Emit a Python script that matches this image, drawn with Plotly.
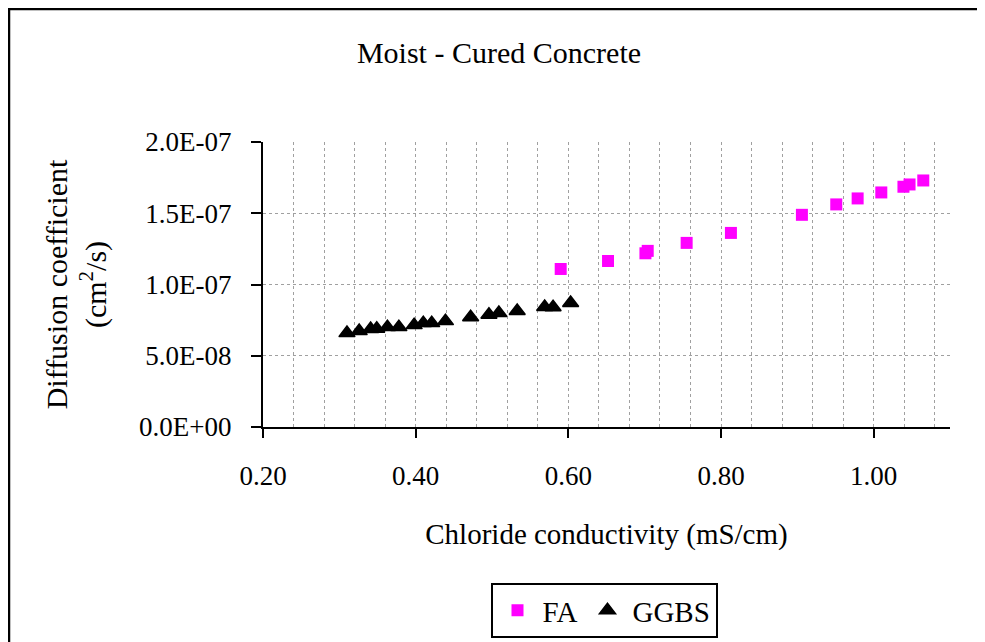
import plotly.graph_objs as go

# Values
fa_x = [0.590, 0.652, 0.701, 0.704, 0.755, 0.813, 0.906, 0.951, 0.979, 1.010, 1.039, 1.047, 1.065]
fa_y = [1.109e-7, 1.165e-7, 1.219e-7, 1.236e-7, 1.292e-7, 1.362e-7, 1.489e-7, 1.562e-7,
        1.604e-7, 1.646e-7, 1.686e-7, 1.702e-7, 1.730e-7]

ggbs_x = [0.310, 0.326, 0.341, 0.349, 0.363, 0.378, 0.398, 0.410, 0.421, 0.439, 0.472,
          0.496, 0.509, 0.533, 0.569, 0.580, 0.603]
ggbs_y = [6.59e-8, 6.73e-8, 6.87e-8, 6.89e-8, 7.01e-8, 7.01e-8, 7.15e-8, 7.29e-8, 7.29e-8,
          7.43e-8, 7.71e-8, 7.88e-8, 8.00e-8, 8.14e-8, 8.42e-8, 8.40e-8, 8.70e-8]

y_tickvals = [0, 5e-8, 1e-7, 1.5e-7, 2e-7]
y_ticktext = ['0.0E+00', '5.0E-08', '1.0E-07', '1.5E-07', '2.0E-07']

FONT = 'Liberation Serif, Times New Roman, serif'
GRID = '#a0a0a0'

# the page body adds an 8px margin, so the figure is 8px smaller than the window
W, H = 977, 634
L, T = 255, 134
PW, PH = 687, 285

fa = go.Scatter(
    x = fa_x,
    y = fa_y,
    mode = 'markers',
    name = 'FA',
    marker = dict(symbol='square', size=12, color='#ff00ff')
)

ggbs = go.Scatter(
    x = ggbs_x,
    y = ggbs_y,
    mode = 'markers',
    name = 'GGBS',
    marker = dict(symbol='triangle-up', size=14, color='black',
                  line=dict(color='black', width=1.5))
)

layout = go.Layout(
    width = W, height = H,
    margin = dict(l=L, r=W - L - PW, t=T, b=H - T - PH, autoexpand=False),
    paper_bgcolor = 'white', plot_bgcolor = 'white',
    font = dict(family=FONT, color='black', size=27),
    title = dict(text='Moist - Cured Concrete', x=491 / W, xanchor='center',
                 y=1 - 44 / H, yanchor='middle', font=dict(size=30)),
    xaxis = dict(
        title = dict(text='Chloride conductivity (mS/cm)', font=dict(size=29), standoff=33),
        range = [0.2, 1.1], dtick = 0.2, tick0 = 0.2, tickformat = '.2f',
        showline = True, linecolor = 'black', linewidth = 2,
        ticks = 'outside', ticklen = 9, tickwidth = 2, tickcolor = 'black',
        ticklabelstandoff = 15,
        showgrid = True, gridcolor = GRID, gridwidth = 1, griddash = 'dot',
        minor = dict(dtick=0.04, tick0=0.2, showgrid=True, gridcolor=GRID,
                     gridwidth=1, griddash='dot', ticks=''),
        zeroline = False,
    ),
    yaxis = dict(
        title = dict(text='Diffusion coefficient<br>(cm<sup>2</sup>/s)', font=dict(size=30),
                     standoff=24),
        range = [0, 2e-7],
        tickvals = y_tickvals, ticktext = y_ticktext,
        showline = True, linecolor = 'black', linewidth = 2,
        ticks = 'outside', ticklen = 10, tickwidth = 2, tickcolor = 'black',
        ticklabelstandoff = 14,
        showgrid = True, gridcolor = GRID, gridwidth = 1, griddash = 'dot',
        zeroline = False,
    ),
    legend = dict(orientation='h', x=(596 - L) / PW, xanchor='center',
                  y=(T + PH - 575) / PH, yanchor='top',
                  bordercolor='black', borderwidth=2, font=dict(size=29),
                  bgcolor='white', itemwidth=40),
    showlegend = True,
    # chart border (runs off the right and bottom edge as in the original)
    shapes = [dict(type='rect', xref='paper', yref='paper',
                   x0=(1 - L) / PW, x1=1.2, y0=-1.0, y1=(T + PH - 1) / PH,
                   line=dict(color='black', width=2.5))],
)

fig = go.Figure(data=[fa, ggbs], layout=layout)
fig.write_html('out.html')
